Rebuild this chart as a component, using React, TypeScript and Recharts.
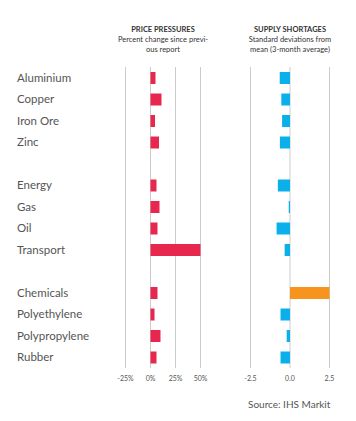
import React from 'react';
import { BarChart, Bar, XAxis, YAxis, CartesianGrid, Cell } from 'recharts';

const categories = ['Aluminium', 'Copper', 'Iron Ore', 'Zinc', '_gap1', 'Energy', 'Gas', 'Oil', 'Transport', '_gap2', 'Chemicals', 'Polyethylene', 'Polypropylene', 'Rubber'];
const pricePressures: (number | null)[] = [5, 11, 4.5, 8.5, null, 6, 9, 7, 50, null, 7, 4, 10, 6];
const supplyShortages: (number | null)[] = [-0.65, -0.55, -0.5, -0.64, null, -0.77, -0.08, -0.85, -0.34, null, 2.5, -0.6, -0.21, -0.6];
const priceTicks = [-25, 0, 25, 50];
const supplyTicks = [-2.5, 0, 2.5];

const data = categories.map((name, i) => ({ name, price: pricePressures[i], supply: supplyShortages[i] }));

const FONT = 'Lato, "Open Sans", sans-serif';
const RED = '#e8274f';
const BLUE = '#0bb0ea';
const ORANGE = '#f7941e';

const CategoryTick = (props: any) => {
  const { y, payload } = props;
  const label = String(payload.value).startsWith('_') ? '' : payload.value;
  return (
    <text x={17} y={y} dy={4} fontSize={11.5} fill="#555" fontFamily={FONT} textAnchor="start">
      {label}
    </text>
  );
};

const headerStyle: React.CSSProperties = {
  position: 'absolute',
  top: 25,
  textAlign: 'center',
  fontFamily: FONT,
  fontSize: 7.5,
  lineHeight: '10px',
  color: '#333',
  width: 110,
};

export default function App() {
  return (
    <div style={{ position: 'absolute', left: 0, top: 0, width: 356, height: 421, background: '#fff' }}>
      <div style={{ ...headerStyle, left: 108 }}>
        <div style={{ fontWeight: 700 }}>PRICE PRESSURES</div>
        <div>Percent change since previ-</div>
        <div>ous report</div>
      </div>
      <div style={{ ...headerStyle, left: 235 }}>
        <div style={{ fontWeight: 700 }}>SUPPLY SHORTAGES</div>
        <div>Standard deviations from</div>
        <div>mean (3-month average)</div>
      </div>
      <div style={{ position: 'absolute', left: 0, top: 0 }}>
        <BarChart width={215} height={421} data={data} layout="vertical" margin={{ top: 67, right: 14.5, bottom: 23, left: 0 }}>
          <CartesianGrid horizontal={false} stroke="#cccccc" />
          <XAxis type="number" height={30} domain={[-25, 50]} ticks={priceTicks} tickFormatter={(v: number) => `${v}%`} axisLine={false} tickLine={false} tick={{ fontSize: 7, fill: '#555', fontFamily: FONT }} interval={0} />
          <YAxis type="category" dataKey="name" width={125.5} axisLine={false} tickLine={false} tick={<CategoryTick />} interval={0} />
          <Bar dataKey="price" fill={RED} barSize={12} isAnimationActive={false} />
        </BarChart>
      </div>
      <div style={{ position: 'absolute', left: 0, top: 0 }}>
        <BarChart width={356} height={421} data={data} layout="vertical" margin={{ top: 67, right: 26.5, bottom: 23, left: 250.5 }}>
          <CartesianGrid horizontal={false} stroke="#cccccc" />
          <XAxis type="number" height={30} domain={[-2.5, 2.5]} ticks={supplyTicks} tickFormatter={(v: number) => v.toFixed(1)} axisLine={false} tickLine={false} tick={{ fontSize: 7, fill: '#555', fontFamily: FONT }} interval={0} />
          <YAxis type="category" dataKey="name" hide />
          <Bar dataKey="supply" fill={BLUE} barSize={12} isAnimationActive={false}>
            {data.map((d, i) => (
              <Cell key={i} fill={d.supply !== null && d.supply > 0 ? ORANGE : BLUE} />
            ))}
          </Bar>
        </BarChart>
      </div>
      <div style={{ position: 'absolute', left: 248, top: 398, fontFamily: FONT, fontSize: 10, color: '#555', whiteSpace: 'nowrap' }}>
        Source: IHS Markit
      </div>
    </div>
  );
}
